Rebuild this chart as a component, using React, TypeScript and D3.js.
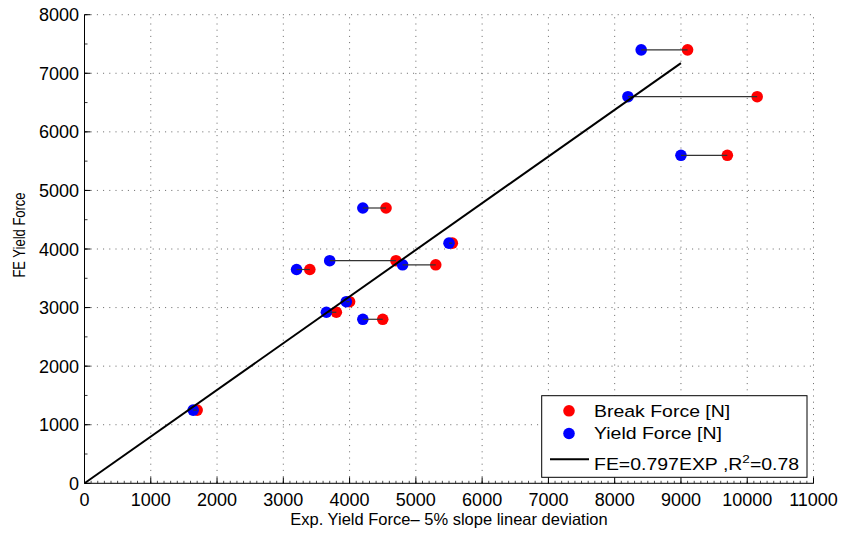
import React from "react";
import * as d3 from "d3";

const feYield = [1250, 2800, 2920, 3100, 3650, 3800, 3730, 4100, 4700, 7400, 6600, 5600];
const yieldExp = [1640, 4200, 3650, 3950, 3200, 3700, 4800, 5500, 4200, 8400, 8200, 9000];
const breakExp = [1700, 4500, 3800, 4000, 3400, 4700, 5300, 5550, 4550, 9100, 10150, 9700];
const fitSlope = 0.797;
const fitMaxX = 9000;
const xTicks = [0, 1000, 2000, 3000, 4000, 5000, 6000, 7000, 8000, 9000, 10000, 11000];
const yTicks = [0, 1000, 2000, 3000, 4000, 5000, 6000, 7000, 8000];
const legendLabels = ["Break Force [N]", "Yield Force [N]"];

const W = 844;
const H = 533;
const left = 84.5;
const right = 813.5;
const top = 14.7;
const bottom = 483.3;
const FONT = "'Liberation Sans', Arial, Helvetica, sans-serif";

export default function App() {
  const x = d3.scaleLinear().domain([0, 11000]).range([left, right]);
  const y = d3.scaleLinear().domain([0, 8000]).range([bottom, top]);
  const xMinor = d3.range(0, 11001, 100);
  const yMinor = d3.range(0, 8001, 500);
  const fitLine = d3.line<number>().x((d) => x(d)).y((d) => y(d * fitSlope));
  const idx = d3.range(feYield.length);
  const grid = { stroke: "#555", strokeWidth: 0.9, strokeDasharray: "1,5.2" };

  return (
    <svg width={W} height={H} style={{ position: "absolute", left: 0, top: 0, background: "#fff" }}>
      {/* grid */}
      {xTicks.slice(1).map((t) => (
        <line key={"gx" + t} x1={x(t)} x2={x(t)} y1={bottom} y2={top} {...grid} />
      ))}
      {yTicks.slice(1).map((t) => (
        <line key={"gy" + t} x1={left} x2={right} y1={y(t)} y2={y(t)} {...grid} />
      ))}
      {/* axes */}
      <line x1={left} x2={right} y1={bottom} y2={bottom} stroke="#000" strokeWidth={1} />
      <line x1={left} x2={left} y1={bottom} y2={top} stroke="#000" strokeWidth={1} />
      {xMinor.map((t) => (
        <line key={"xm" + t} x1={x(t)} x2={x(t)} y1={bottom} y2={bottom - 2.5} stroke="#000" strokeWidth={0.7} />
      ))}
      {xTicks.map((t) => (
        <line key={"xt" + t} x1={x(t)} x2={x(t)} y1={bottom} y2={bottom - 6} stroke="#000" strokeWidth={1} />
      ))}
      {yMinor.map((t) => (
        <line key={"ym" + t} x1={left} x2={left + 3} y1={y(t)} y2={y(t)} stroke="#000" strokeWidth={0.8} />
      ))}
      {yTicks.map((t) => (
        <line key={"yt" + t} x1={left} x2={left + 6} y1={y(t)} y2={y(t)} stroke="#000" strokeWidth={1} />
      ))}
      {xTicks.map((t) => (
        <text key={"xl" + t} x={x(t)} y={506} textAnchor="middle" fontFamily={FONT} fontSize={18} fill="#000">
          {t}
        </text>
      ))}
      {yTicks.map((t) => (
        <text key={"yl" + t} x={79} y={y(t) + 6.5} textAnchor="end" fontFamily={FONT} fontSize={18} fill="#000">
          {t}
        </text>
      ))}
      <text x={(left + right) / 2} y={525} textAnchor="middle" fontFamily={FONT} fontSize={16.5} fill="#000">
        Exp. Yield Force– 5% slope linear deviation
      </text>
      <text
        transform="translate(25,235) rotate(-90) scale(1,1.25)"
        textAnchor="middle"
        fontFamily={FONT}
        fontSize={13}
        fill="#000"
      >
        FE Yield Force
      </text>

      {/* markers */}
      {idx.map((i) => (
        <circle key={"r" + i} cx={x(breakExp[i])} cy={y(feYield[i])} r={5.8} fill="#ff0000" />
      ))}
      {idx.map((i) => (
        <circle key={"b" + i} cx={x(yieldExp[i])} cy={y(feYield[i])} r={5.8} fill="#0000ff" />
      ))}
      {idx.map((i) => (
        <line
          key={"c" + i}
          x1={x(yieldExp[i])}
          x2={x(breakExp[i])}
          y1={y(feYield[i])}
          y2={y(feYield[i])}
          stroke="#333"
          strokeWidth={1.2}
        />
      ))}
      <path d={fitLine([0, fitMaxX]) || ""} stroke="#000" strokeWidth={2} fill="none" />

      {/* legend */}
      <rect x={541.7} y={395.7} width={265.3} height={81.6} fill="#fff" stroke="#000" strokeWidth={1} />
      <circle cx={569} cy={410.8} r={5.8} fill="#ff0000" />
      <circle cx={569} cy={433.5} r={5.8} fill="#0000ff" />
      <line x1={550} x2={589} y1={459.3} y2={459.3} stroke="#000" strokeWidth={2} />
      <g fontFamily={FONT} fontSize={16.5} fill="#000">
        <text transform="translate(594,416.8) scale(1.18,1)">{legendLabels[0]}</text>
        <text transform="translate(594,439.4) scale(1.18,1)">{legendLabels[1]}</text>
        <text transform="translate(594,470) scale(1.18,1)">
          FE=0.797EXP ,R<tspan dy={-7} fontSize={11.5}>2</tspan>
          <tspan dy={7}>=0.78</tspan>
        </text>
      </g>
    </svg>
  );
}
